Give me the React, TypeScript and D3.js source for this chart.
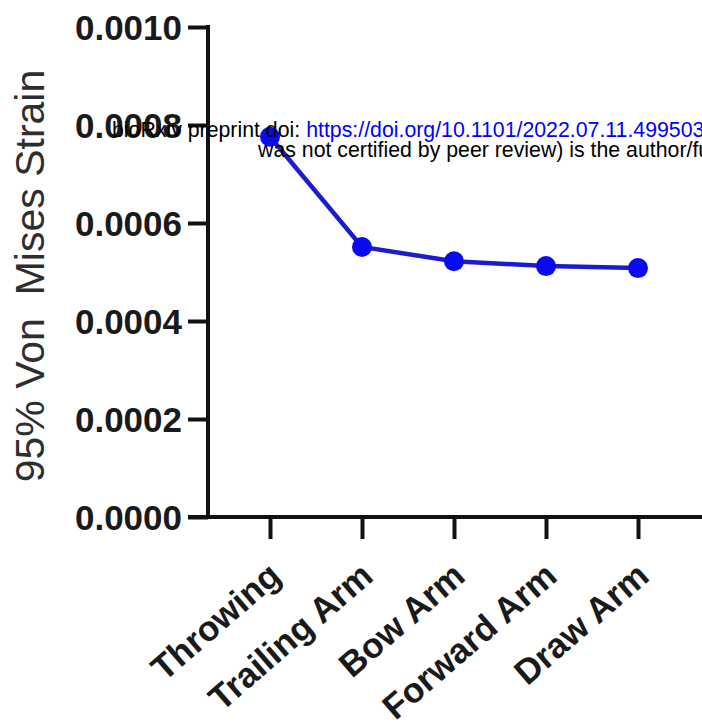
import React, { useEffect, useRef } from "react";
import * as d3 from "d3";

// data
const categories = ["Throwing", "Trailing Arm", "Bow Arm", "Forward Arm", "Draw Arm"];
const strainValues = [0.000776, 0.000551, 0.000522, 0.000512, 0.000508];
const yTicks = [0, 0.0002, 0.0004, 0.0006, 0.0008, 0.001];
const yTitle = "95% Von  Mises Strain";
const watermark1 = "bioRxiv preprint doi: ";
const watermarkUrl = "https://doi.org/10.1101/2022.07.11.499503";
const watermark2 = "was not certified by peer review) is the author/funder";

const W = 702;
const H = 728;

export default function App() {
  const ref = useRef<SVGSVGElement>(null);

  useEffect(() => {
    const svg = d3.select(ref.current);
    svg.selectAll("*").remove();

    // axis geometry
    const axisX = 208;
    const yScale = d3.scaleLinear().domain([0, 0.001]).range([517, 27]);
    const xScale = d3.scalePoint<string>().domain(categories).range([270, 638]);
    const font = "'Liberation Sans', Arial, Helvetica, sans-serif";

    // y axis
    const yAxis = d3
      .axisLeft(yScale)
      .tickValues(yTicks)
      .tickSize(20)
      .tickPadding(6)
      .tickFormat((d) => d3.format(".4f")(d as number));
    const gy = svg.append("g").attr("transform", `translate(${axisX},0)`).call(yAxis);
    gy.select(".domain").remove();
    gy.selectAll(".tick line").attr("stroke", "#111").attr("stroke-width", 4);
    gy.selectAll(".tick text")
      .attr("font-family", font)
      .attr("font-weight", "bold")
      .attr("font-size", 35)
      .attr("fill", "#1a1a1a")
      .attr("dy", "0.36em");
    svg
      .append("line")
      .attr("x1", axisX)
      .attr("x2", axisX)
      .attr("y1", yScale(0.001) - 2)
      .attr("y2", yScale(0) + 2)
      .attr("stroke", "#111")
      .attr("stroke-width", 4);

    // x axis
    svg
      .append("line")
      .attr("x1", axisX - 20)
      .attr("x2", W)
      .attr("y1", yScale(0))
      .attr("y2", yScale(0))
      .attr("stroke", "#111")
      .attr("stroke-width", 4);
    const xAxis = d3.axisBottom(xScale).tickSize(22).tickFormat(() => "");
    const gx = svg.append("g").attr("transform", `translate(0,${yScale(0)})`).call(xAxis);
    gx.select(".domain").remove();
    gx.selectAll(".tick line").attr("stroke", "#111").attr("stroke-width", 4);

    svg
      .append("g")
      .selectAll("text")
      .data(categories)
      .enter()
      .append("text")
      .attr("transform", (d) => `translate(${(xScale(d) as number) + 13},${yScale(0) + 62}) rotate(-41)`)
      .attr("text-anchor", "end")
      .attr("font-family", font)
      .attr("font-weight", "bold")
      .attr("font-size", 35)
      .attr("fill", "#1a1a1a")
      .text((d) => d);

    // y title
    svg
      .append("text")
      .attr("transform", `translate(44,276) rotate(-90)`)
      .attr("text-anchor", "middle")
      .attr("font-family", font)
      .attr("font-size", 41)
      .attr("fill", "#2e2e2e")
      .style("white-space", "pre")
      .text(yTitle);

    // series
    const line = d3
      .line<number>()
      .x((_, i) => xScale(categories[i]) as number)
      .y((d) => yScale(d));
    svg
      .append("path")
      .datum(strainValues)
      .attr("d", line)
      .attr("fill", "none")
      .attr("stroke", "#1c1ccc")
      .attr("stroke-width", 4.5);
    svg
      .append("g")
      .selectAll("circle")
      .data(strainValues)
      .enter()
      .append("circle")
      .attr("cx", (_, i) => xScale(categories[i]) as number)
      .attr("cy", (d) => yScale(d))
      .attr("r", 10)
      .attr("fill", "#0a0af0");

    // preprint watermark
    const wm = svg
      .append("text")
      .attr("x", 112)
      .attr("y", 137)
      .attr("font-family", font)
      .attr("font-size", 21.3)
      .attr("fill", "#000");
    wm.append("tspan").text(watermark1);
    wm.append("tspan").attr("fill", "#0000ff").text(watermarkUrl);
    svg
      .append("text")
      .attr("x", 258)
      .attr("y", 157)
      .attr("font-family", font)
      .attr("font-size", 21.3)
      .attr("fill", "#000")
      .text(watermark2);
  }, []);

  return (
    <svg
      ref={ref}
      width={W}
      height={H}
      style={{ position: "absolute", left: 0, top: 0, background: "#fff" }}
    />
  );
}
